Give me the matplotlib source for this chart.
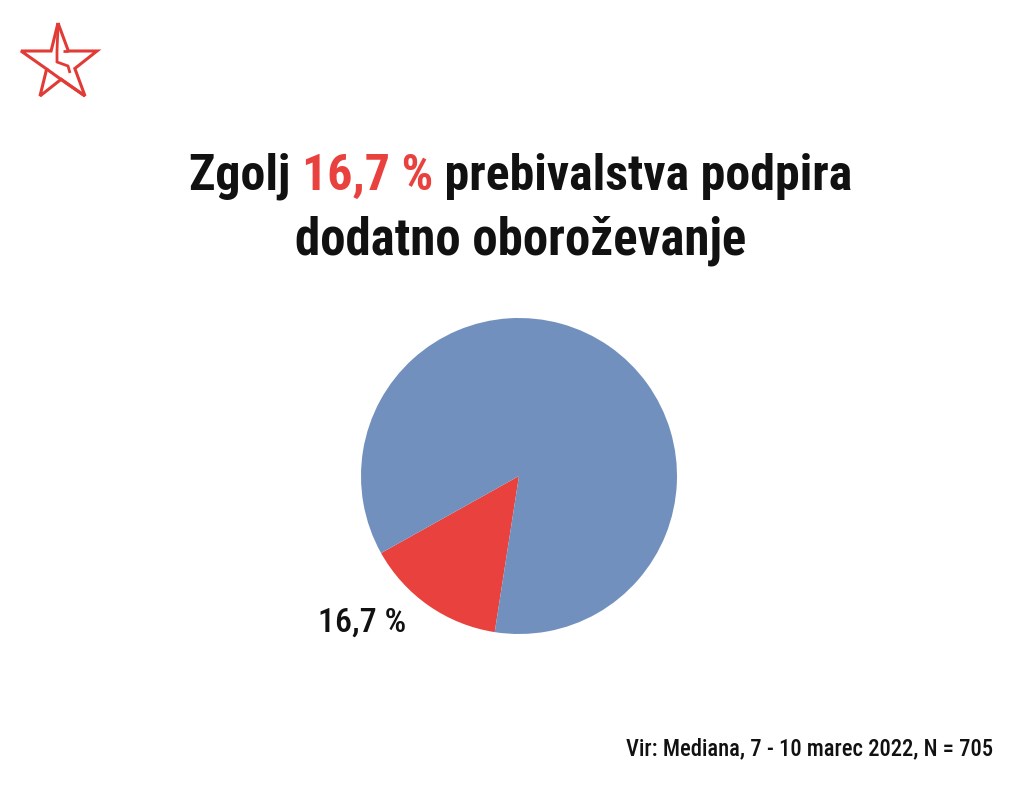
import matplotlib
matplotlib.use("Agg")
import matplotlib.pyplot as plt
from matplotlib import font_manager
from matplotlib.lines import Line2D

# ---- data ----
labels = ["Podpira", "Ostali"]
values = [16.7, 99.0]
colors = ["#E8413E", "#7190BE"]
value_label = "16,7 %"
title_parts = ["Zgolj ", "16,7 %", " prebivalstva podpira"]
title_line2 = "dodatno oboroževanje"
source = "Vir: Mediana, 7 - 10 marec 2022, N = 705"

names = {f.name for f in font_manager.fontManager.ttflist}
FAM = ["Roboto Condensed", "DejaVu Sans"] if "Roboto Condensed" in names else ["Roboto", "DejaVu Sans"]

W, H = 1024, 791
fig = plt.figure(figsize=(W / 100, H / 100), dpi=100)
fig.patch.set_facecolor("white")
renderer = fig.canvas.get_renderer()


def width_of(s, size, weight):
    t = fig.text(0, 0, s, fontsize=size, fontweight=weight, family=FAM)
    w = t.get_window_extent(renderer).width
    t.remove()
    return w


def fit_size(s, target_w, weight):
    return 20 * target_w / width_of(s, 20, weight)


# pie
cx, cy, r = 519, 476, 158
ax = fig.add_axes([(cx - r) / W, (H - cy - r) / H, 2 * r / W, 2 * r / H])
ax.pie(values, colors=colors, startangle=209.2, counterclock=True,
       wedgeprops=dict(linewidth=0), radius=1.0)
ax.set_xlim(-1, 1); ax.set_ylim(-1, 1); ax.set_aspect("equal"); ax.axis("off")

lsize = fit_size(value_label, 88, "medium")
fig.text(318 / W, 1 - 632 / H, value_label, fontsize=lsize, fontweight="medium",
         family=FAM, color="#111111", ha="left", va="baseline")

# title
TW = "semibold"
full = "".join(title_parts)
tsize = fit_size(full, 662, TW)
fw = width_of(full, tsize, TW)
x0 = 521 - fw / 2
part_colors = ["#111111", "#E8413E", "#111111"]
acc = ""
for p, c in zip(title_parts, part_colors):
    off = width_of(acc, tsize, TW) if acc else 0
    fig.text((x0 + off) / W, 1 - 190 / H, p, fontsize=tsize, fontweight=TW, family=FAM,
             color=c, ha="left", va="baseline")
    acc += p
fig.text(521 / W, 1 - 255 / H, title_line2, fontsize=tsize * 1.02, fontweight=TW, family=FAM,
         color="#111111", ha="center", va="baseline")

ssize = fit_size(source, 368, "medium")
fig.text(993 / W, 1 - 755 / H, source, fontsize=ssize, fontweight="medium", family=FAM,
         color="#111111", ha="right", va="baseline")


# logo (star with bolt)
def px(x, y):
    return x / W, 1 - y / H


def line(pts, lw=2.2):
    xs, ys = zip(*[px(*p) for p in pts])
    fig.add_artist(Line2D(xs, ys, color="#E23B36", lw=lw, solid_joinstyle="miter",
                          solid_capstyle="butt"))


top, right, br, bl, left = (58, 23), (97, 51), (85, 96), (40, 96), (21, 51)


def inter(a, b, c, d):
    x1, y1 = a; x2, y2 = b; x3, y3 = c; x4, y4 = d
    den = (x1 - x2) * (y3 - y4) - (y1 - y2) * (x3 - x4)
    t = ((x1 - x3) * (y3 - y4) - (y1 - y3) * (x3 - x4)) / den
    return x1 + t * (x2 - x1), y1 + t * (y2 - y1)


i_tr = inter(top, br, left, right)
i_tl = inter(top, bl, left, right)
i_r = inter(right, bl, top, br)
i_l = inter(left, br, top, bl)
i_b = inter(left, br, right, bl)
line([top, i_tr, right, i_r, br, i_b, bl, i_l, left, i_tl, top])
# interior strokes
line([i_l, (66, 83), br])
line([(58, 26), (57, 51), (57, 62), (68, 66), (70, 73)], lw=2.0)
line([i_tr, (63, 51)], lw=2.0)

fig.savefig("out.png", dpi=100, facecolor="white")
